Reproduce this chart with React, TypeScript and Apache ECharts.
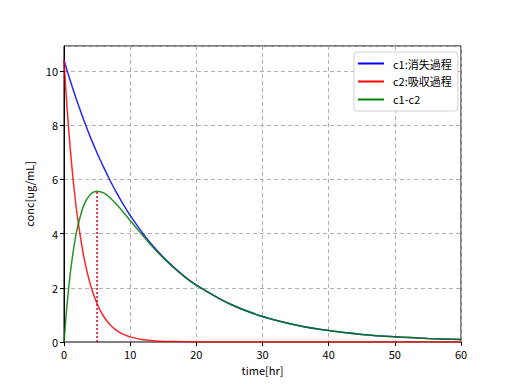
import React, { useEffect, useRef } from "react";
import * as echarts from "echarts";

const times = [0, 0.25, 0.5, 1, 1.5, 2, 3, 4, 5, 6, 7, 8, 9, 10, 12, 14, 16, 18, 20, 25, 30, 35, 40, 45, 50, 55, 60];
const c1 = [10.4, 10.19, 9.99, 9.6, 9.22, 8.86, 8.18, 7.55, 6.97, 6.44, 5.94, 5.48, 5.06, 4.67, 3.98, 3.39, 2.89, 2.46, 2.1, 1.41, 0.94, 0.63, 0.42, 0.28, 0.19, 0.13, 0.09];
const c2 = [10.4, 9.41, 8.51, 6.97, 5.71, 4.67, 3.13, 2.1, 1.41, 0.94, 0.63, 0.42, 0.28, 0.19, 0.085, 0.04, 0.02, 0.01, 0.003, 0, 0, 0, 0, 0, 0, 0, 0];
const diff = [0, 0.78, 1.48, 2.63, 3.51, 4.19, 5.05, 5.45, 5.56, 5.5, 5.31, 5.06, 4.78, 4.48, 3.9, 3.35, 2.87, 2.45, 2.1, 1.41, 0.94, 0.63, 0.42, 0.28, 0.19, 0.13, 0.09];
const peakTime = 5;
const peakValue = 5.56;
const seriesNames = ["c1:消失過程", "c2:吸収過程", "c1-c2"];

const font = "'Noto Sans CJK JP', 'DejaVu Sans', sans-serif";

export default function App() {
  const ref = useRef<HTMLDivElement>(null);
  useEffect(() => {
    if (!ref.current) return;
    const chart = echarts.init(ref.current, undefined, { renderer: "svg" });
    const pair = (ys: number[]) => times.map((t, i) => [t, ys[i]]);
    chart.setOption({
      animation: false,
      textStyle: { fontFamily: font },
      grid: { left: 64, right: 51, top: 46, bottom: 42, show: true, borderColor: "#000", borderWidth: 1, backgroundColor: "transparent" },
      xAxis: {
        type: "value", min: 0, max: 60, interval: 10,
        name: "time[hr]", nameLocation: "middle", nameGap: 22,
        nameTextStyle: { color: "#000", fontSize: 11, fontFamily: font },
        axisLine: { show: true, lineStyle: { color: "#808080", width: 2 } },
        axisTick: { show: true, length: 4, lineStyle: { color: "#000" } },
        axisLabel: { color: "#000", fontSize: 11, margin: 6, fontFamily: font },
        splitLine: { show: true, lineStyle: { color: "#b0b0b0", type: [4, 3], width: 1 } },
      },
      yAxis: {
        type: "value", min: 0, max: 10.92, interval: 2,
        name: "conc[ug/mL]", nameLocation: "middle", nameGap: 30,
        nameTextStyle: { color: "#000", fontSize: 11, fontFamily: font },
        axisLine: { show: true, lineStyle: { color: "#000", width: 1 } },
        axisTick: { show: true, length: 4, lineStyle: { color: "#000" } },
        axisLabel: { color: "#000", fontSize: 11, margin: 6, showMaxLabel: false, fontFamily: font },
        splitLine: { show: true, lineStyle: { color: "#b0b0b0", type: [4, 3], width: 1 } },
      },
      legend: {
        data: seriesNames,
        orient: "vertical", left: 354, top: 52,
        itemWidth: 26, itemHeight: 2, itemGap: 7, icon: "rect",
        backgroundColor: "#fff", borderColor: "#d0d0d0", borderWidth: 1, borderRadius: 3,
        padding: [6, 6, 6, 4],
        textStyle: { color: "#000", fontSize: 11, fontFamily: font, padding: [0, 0, 0, 4] },
      },
      series: [
        { name: seriesNames[0], type: "line", data: pair(c1), smooth: 0.3, showSymbol: false, lineStyle: { color: "#0000ff", width: 1.5, opacity: 0.85 }, itemStyle: { color: "#0000ff" } },
        { name: seriesNames[1], type: "line", data: pair(c2), smooth: 0.3, showSymbol: false, lineStyle: { color: "#ff0000", width: 1.5, opacity: 0.85 }, itemStyle: { color: "#ff0000" } },
        { name: seriesNames[2], type: "line", data: pair(diff), smooth: 0.3, showSymbol: false, lineStyle: { color: "#008000", width: 1.5, opacity: 0.85 }, itemStyle: { color: "#008000" } },
        { name: "peak", type: "line", data: [[peakTime, 0], [peakTime, peakValue]], showSymbol: false, lineStyle: { color: "#cc0022", width: 1.5, type: [2, 2] }, itemStyle: { color: "#cc0022" } },
      ],
    });
    return () => chart.dispose();
  }, []);
  return <div ref={ref} style={{ width: 512, height: 384, position: "absolute", left: 0, top: 0 }} />;
}
